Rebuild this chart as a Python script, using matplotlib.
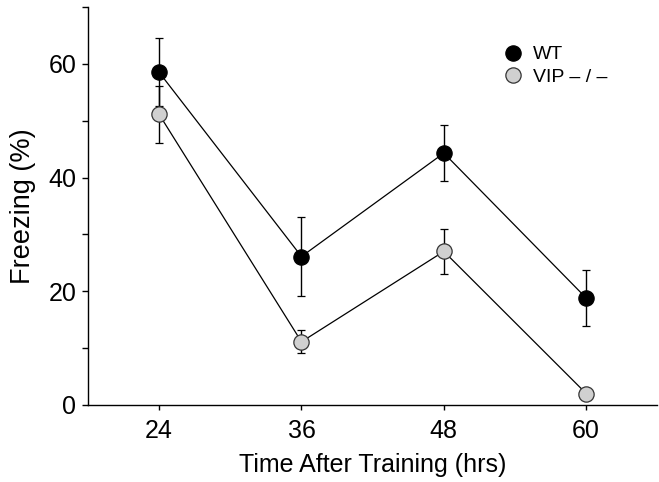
import matplotlib
matplotlib.use("Agg")
import matplotlib.pyplot as plt
from matplotlib.lines import Line2D
from matplotlib.ticker import MultipleLocator

plt.rcParams["font.family"] = ["Liberation Sans", "DejaVu Sans"]

# 데이터
hours = [24, 36, 48, 60]
wt_mean = [58.5, 26.1, 44.3, 18.8]
wt_err = [6.0, 7.0, 5.0, 5.0]
vip_mean = [51.1, 11.1, 27.0, 2.0]
vip_err = [5.0, 2.0, 4.0, 0.0]

WT_FACE = "black"
VIP_FACE = "#d0d0d0"

fig = plt.figure(figsize=(6.59, 4.82), dpi=100)
ax = fig.add_axes([0.1335, 0.16, 0.864, 0.8255])

ax.errorbar(hours, wt_mean, yerr=wt_err, color="black", lw=0.9,
            elinewidth=1.0, capsize=3.0, capthick=1.0,
            marker="o", ms=11, mfc=WT_FACE, mec="black", mew=0.9, zorder=3)
ax.errorbar(hours, vip_mean, yerr=vip_err, color="black", lw=0.9,
            elinewidth=1.0, capsize=3.0, capthick=1.0,
            marker="o", ms=11, mfc=VIP_FACE, mec="#333333", mew=0.9, zorder=3)

ax.set_xlim(18, 66)
ax.set_ylim(0, 70)
ax.set_xticks(hours)
ax.yaxis.set_major_locator(MultipleLocator(20))
ax.yaxis.set_minor_locator(MultipleLocator(10))

for s in ["top", "right"]:
    ax.spines[s].set_visible(False)
for s in ["left", "bottom"]:
    ax.spines[s].set_linewidth(1.0)

ax.tick_params(axis="y", which="major", length=4.5, width=1.0, labelsize=18, pad=4)
ax.tick_params(axis="y", which="minor", length=4.5, width=1.0)
ax.tick_params(axis="x", which="major", length=3.5, width=1.0, labelsize=18, pad=7)

ax.set_xlabel("Time After Training (hrs)", fontsize=18, labelpad=7)
ax.set_ylabel("Freezing (%)", fontsize=19.5, labelpad=9)

handles = [
    Line2D([], [], ls="none", marker="o", ms=11, mfc=WT_FACE, mec="black", mew=0.9),
    Line2D([], [], ls="none", marker="o", ms=11, mfc=VIP_FACE, mec="#333333", mew=0.9),
]
ax.legend(handles, ["WT", "VIP \u2013 / \u2013"], loc="upper left",
          bbox_to_anchor=(0.716, 0.922), frameon=False, fontsize=14,
          handlelength=1.0, handletextpad=0.5, labelspacing=0.25,
          borderaxespad=0)

fig.savefig("out.png", dpi=100)
